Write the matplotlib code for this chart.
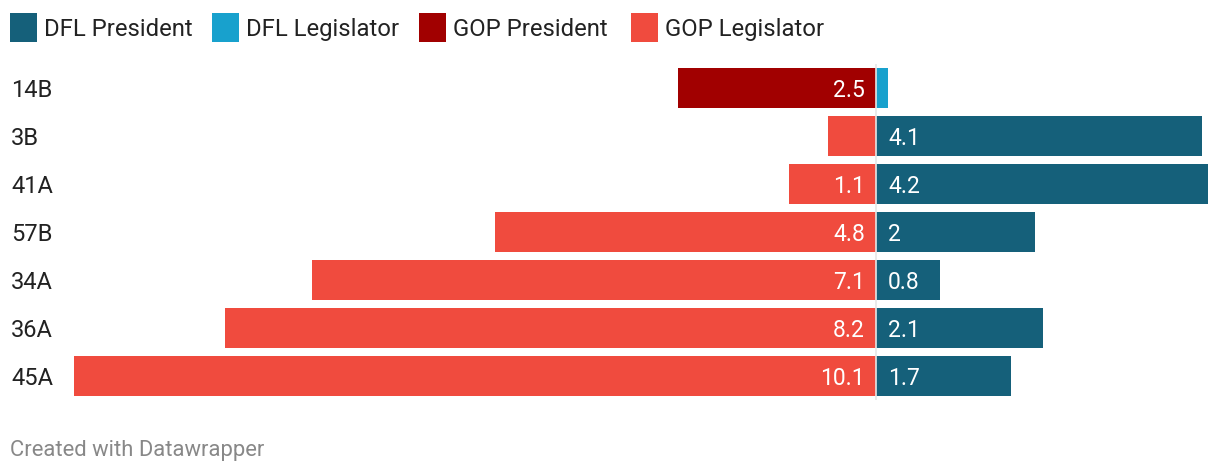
import matplotlib
matplotlib.use("Agg")
import matplotlib.pyplot as plt
from matplotlib.patches import Rectangle

plt.rcParams['font.family'] = ['Roboto', 'DejaVu Sans']

categories = ["14B", "3B", "41A", "57B", "34A", "36A", "45A"]
gop_president = [2.5, 0, 0, 0, 0, 0, 0]
gop_legislator = [0, 0.6, 1.1, 4.8, 7.1, 8.2, 10.1]
dfl_president = [0, 4.1, 4.2, 2.0, 0.8, 2.1, 1.7]
dfl_legislator = [0.15, 0, 0, 0, 0, 0, 0]

legend_labels = ["DFL President", "DFL Legislator", "GOP President", "GOP Legislator"]
colors = {"DFL President": "#15607a", "DFL Legislator": "#18a1cd",
          "GOP President": "#a10000", "GOP Legislator": "#f04b3e"}

W, H = 1220, 474
fig = plt.figure(figsize=(W / 100, H / 100), dpi=100)
ax = fig.add_axes([74 / W, 1 - 400 / H, (1208 - 74) / W, (400 - 64) / H])
ax.set_xlim(-10.1, 4.18)
ax.set_ylim(6.5, -0.5)
ax.axis("off")

y = list(range(len(categories)))
bh = 40 / 48
ax.barh(y, [-v for v in gop_president], height=bh, color=colors["GOP President"], linewidth=0)
ax.barh(y, [-v for v in gop_legislator], height=bh, color=colors["GOP Legislator"], linewidth=0)
ax.barh(y, dfl_president, height=bh, color=colors["DFL President"], linewidth=0)
ax.barh(y, dfl_legislator, height=bh, color=colors["DFL Legislator"], linewidth=0)
ax.axvline(0, color="#e6e6e6", lw=1.2, zorder=5)

px = 14.28 / 1134
for i in y:
    left = gop_president[i] + gop_legislator[i]
    right = dfl_president[i] + dfl_legislator[i]
    if left >= 0.7:
        ax.text(-11 * px, i, f"{left:g}", ha="right", va="center_baseline",
                color="white", fontsize=16.5)
    if right >= 0.7:
        ax.text(12 * px, i, f"{right:g}", ha="left", va="center_baseline",
                color="white", fontsize=16.5)
    ax.text(-10.1 - 63 * px, i, categories[i], ha="left", va="center_baseline",
            color="#222222", fontsize=17)

# legend
leg_x = [10, 212, 419, 631]
for lx, lab in zip(leg_x, legend_labels):
    fig.patches.append(Rectangle((lx / W, 1 - 42 / H), 27 / W, 29 / H,
                                 transform=fig.transFigure, color=colors[lab], lw=0))
    fig.text((lx + 34) / W, 1 - 27 / H, lab, ha="left", va="center_baseline",
             fontsize=17.2, color="#222222")

fig.text(10 / W, 1 - 448 / H, "Created with Datawrapper", ha="left",
         va="center_baseline", fontsize=15.8, color="#888888")

fig.savefig("out.png", dpi=100, facecolor="white")
